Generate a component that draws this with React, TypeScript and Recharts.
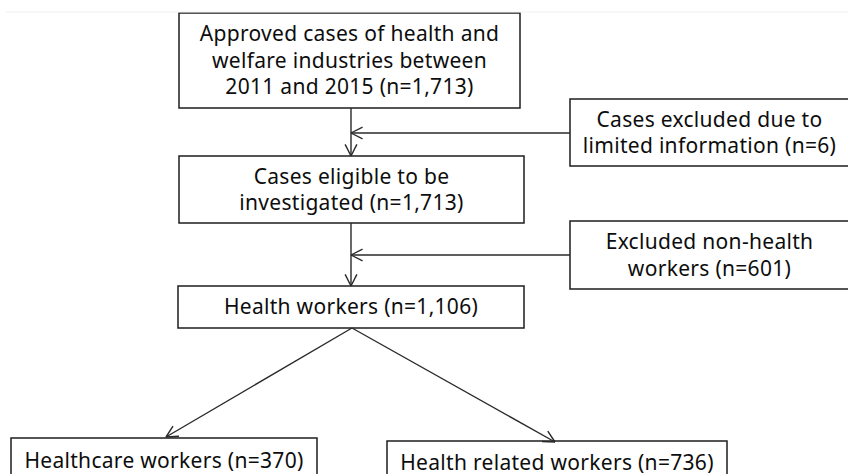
import React from "react";
import { ComposedChart, XAxis, YAxis, ReferenceArea, ReferenceLine } from "recharts";

// flow chart stages: text lines (last line gets the count appended)
const stageLines: string[][] = [
  ["Approved cases of health and", "welfare industries between", "2011 and 2015"],
  ["Cases excluded due to", "limited information"],
  ["Cases eligible to be", "investigated"],
  ["Excluded non-health", "workers"],
  ["Health workers"],
  ["Healthcare workers"],
  ["Health related workers"],
];
const stageCounts = [1713, 6, 1713, 601, 1106, 370, 736];

// layout in pixel-like units (x: 0..848, y: 0..474 from top)
const boxLayout = [
  { x1: 179, x2: 520, y1: 13, y2: 108 },
  { x1: 570, x2: 849, y1: 99, y2: 166 },
  { x1: 179, x2: 524, y1: 156, y2: 223 },
  { x1: 570, x2: 849, y1: 221, y2: 289 },
  { x1: 178, x2: 524, y1: 286, y2: 328 },
  { x1: 11, x2: 317, y1: 438, y2: 483 },
  { x1: 387, x2: 727, y1: 441, y2: 484 },
];

const arrowLayout = [
  { x1: 351, y1: 108, x2: 351, y2: 156 },
  { x1: 570, y1: 133, x2: 351, y2: 133 },
  { x1: 351, y1: 223, x2: 351, y2: 286 },
  { x1: 570, y1: 255, x2: 351, y2: 255 },
  { x1: 352, y1: 328, x2: 166, y2: 437 },
  { x1: 352, y1: 328, x2: 555, y2: 442 },
];

const W = 848;
const H = 474;
const FONT = "'Noto Sans', sans-serif";
const LINE_COLOR = "#2a2a2a";

function headSegments(a: { x1: number; y1: number; x2: number; y2: number }) {
  const len = 13;
  const half = 0.47;
  const ang = Math.atan2(a.y1 - a.y2, a.x1 - a.x2);
  return [ang - half, ang + half].map(t => [
    { x: a.x2, y: a.y2 },
    { x: a.x2 + len * Math.cos(t), y: a.y2 + len * Math.sin(t) },
  ]);
}

function BoxLabel(props: any) {
  const { viewBox, lines } = props;
  if (!viewBox) return null;
  const cx = viewBox.x + viewBox.width / 2;
  const cy = viewBox.y + viewBox.height / 2;
  const lh = 26.5;
  const y0 = cy - ((lines.length - 1) * lh) / 2;
  return (
    <text
      x={cx}
      textAnchor="middle"
      fontFamily={FONT}
      fontSize={21}
      letterSpacing={0.3}
      fill="#0d0d0d"
    >
      {lines.map((l: string, i: number) => (
        <tspan key={i} x={cx} y={y0 + i * lh} dy="0.35em">
          {l}
        </tspan>
      ))}
    </text>
  );
}

export default function App() {
  return (
    <div style={{ position: "absolute", left: 0, top: 0, width: W, height: H, background: "#fff" }}>
      <ComposedChart width={W} height={H} data={[]} margin={{ top: 0, right: 0, bottom: 0, left: 0 }}>
        <XAxis type="number" dataKey="x" domain={[0, W]} hide allowDataOverflow />
        <YAxis type="number" dataKey="y" domain={[0, H]} reversed hide allowDataOverflow />
        <ReferenceLine
          segment={[{ x: 6, y: 12 }, { x: W, y: 12 }]}
          stroke="#f0f0f0"
          strokeWidth={1}
          ifOverflow="visible"
        />
        {arrowLayout.map((a, i) => (
          <ReferenceLine
            key={`a${i}`}
            segment={[{ x: a.x1, y: a.y1 }, { x: a.x2, y: a.y2 }]}
            stroke={LINE_COLOR}
            strokeWidth={1.4}
            ifOverflow="visible"
          />
        ))}
        {arrowLayout.flatMap((a, i) =>
          headSegments(a).map((s, j) => (
            <ReferenceLine
              key={`h${i}-${j}`}
              segment={s}
              stroke={LINE_COLOR}
              strokeWidth={1.4}
              ifOverflow="visible"
            />
          )),
        )}
        {boxLayout.map((b, i) => {
          const lines = stageLines[i].slice();
          const last = lines.length - 1;
          lines[last] = `${lines[last]} (n=${stageCounts[i].toLocaleString("en-US")})`;
          return (
            <ReferenceArea
              key={`b${i}`}
              x1={b.x1}
              x2={b.x2}
              y1={b.y1}
              y2={b.y2}
              fill="#ffffff"
              fillOpacity={1}
              stroke="#1e1e1e"
              strokeWidth={1.5}
              ifOverflow="visible"
              label={<BoxLabel lines={lines} />}
            />
          );
        })}
      </ComposedChart>
    </div>
  );
}
